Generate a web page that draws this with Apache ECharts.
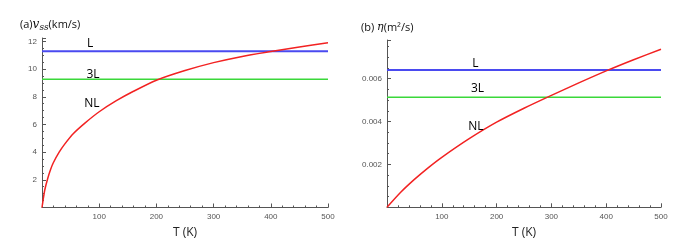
<!DOCTYPE html>
<html>
<head>
<meta charset="utf-8">
<script src="https://cdn.jsdelivr.net/npm/echarts@6/dist/echarts.min.js"></script>
<style>html,body{margin:0;padding:0;background:#fff}#c{width:695px;height:249px}</style>
</head>
<body>
<div id="c"></div>
<script>
// Panel (a): sound speed v_ss (km/s) vs T (K)
const tA = [0, 2, 5, 10, 15, 20, 30, 40, 55, 75, 100, 130, 160, 200, 250, 300, 350, 400, 450, 500];
const vNL = [0, 0.55, 1.3, 2.1, 2.75, 3.25, 4.0, 4.6, 5.35, 6.1, 6.92, 7.72, 8.4, 9.2, 9.9, 10.47, 10.92, 11.27, 11.6, 11.9];
const vL = 11.3;
const v3L = 9.26;
// Panel (b): eta (m^2/s) vs T (K)
const tB = [0, 25, 50, 75, 100, 150, 200, 250, 300, 350, 400, 450, 500];
const etaNL = [0, 0.0007, 0.0013, 0.00184, 0.00233, 0.0032, 0.00397, 0.00462, 0.00522, 0.0058, 0.00636, 0.00688, 0.00737];
const etaL = 0.0064;
const eta3L = 0.00513;
const xRange = [0, 500];
const labelsA = [{name: 'L', t: 85, y: 11.78}, {name: '3L', t: 90, y: 9.57}, {name: 'NL', t: 88, y: 7.45}];
const labelsB = [{name: 'L', t: 162, y: 0.00668}, {name: '3L', t: 166, y: 0.0055}, {name: 'NL', t: 163, y: 0.00376}];

const axisCol = '#555';
function xAx(gi) {
  return {
    type: 'value', gridIndex: gi, min: 0, max: 500, interval: 100,
    name: 'T (K)', nameLocation: 'middle', nameGap: 19,
    nameTextStyle: {fontFamily: 'Open Sans', fontSize: 12, color: '#222'},
    axisLine: {show: true, lineStyle: {color: axisCol, width: 1}},
    axisTick: {show: true, inside: true, length: 4, lineStyle: {color: axisCol}},
    minorTick: {show: true, splitNumber: 5, length: 2, lineStyle: {color: axisCol}},
    axisLabel: {fontFamily: 'Liberation Sans', fontSize: 8, color: '#555', margin: 5,
      formatter: v => (v > 0 && v % 100 === 0) ? String(v) : ''},
    splitLine: {show: false}
  };
}
function mk(gi, ts, ys, color, width, z) {
  return {type: 'line', xAxisIndex: gi, yAxisIndex: gi, data: ts.map((t, i) => [t, ys[i]]),
    showSymbol: false, symbol: 'none', lineStyle: {color: color, width: width}, z: z, silent: true,
    smooth: 0.25};
}
function hl(gi, y, color, width) {
  return {type: 'line', xAxisIndex: gi, yAxisIndex: gi, data: [[xRange[0], y], [xRange[1], y]],
    showSymbol: false, symbol: 'none', lineStyle: {color: color, width: width}, silent: true};
}
function lbl(gi, arr) {
  return {type: 'scatter', xAxisIndex: gi, yAxisIndex: gi, symbolSize: 1, silent: true, z: 10,
    itemStyle: {color: 'rgba(255,255,255,0)', opacity: 1},
    label: {show: true, position: [0, 0], align: 'center', verticalAlign: 'middle', opacity: 1,
      fontFamily: 'Open Sans', fontSize: 12, color: '#000', formatter: p => p.data.name},
    data: arr.map(a => ({name: a.name, value: [a.t, a.y]}))};
}

const chart = echarts.init(document.getElementById('c'), null, {renderer: 'canvas'});
chart.setOption({
  animation: false,
  backgroundColor: '#fff',
  title: [
    {text: '(a){i|v}{s|ss}(km/s)', left: 15, top: 13,
      textStyle: {fontFamily: 'Open Sans', fontSize: 11, fontWeight: 'normal', color: '#111',
        rich: {i: {fontFamily: 'DejaVu Serif', fontStyle: 'italic', fontSize: 12, color: '#111'},
               s: {fontFamily: 'DejaVu Serif', fontStyle: 'italic', fontSize: 9, color: '#111', padding: [5, 0, 0, 0]}}}},
    {text: '(b) {i|η}(m²/s)', left: 356, top: 17,
      textStyle: {fontFamily: 'Open Sans', fontSize: 11, fontWeight: 'normal', color: '#111',
        rich: {i: {fontFamily: 'DejaVu Serif', fontStyle: 'italic', fontSize: 11, color: '#111'}}}}
  ],
  grid: [
    {left: 42, width: 286, top: 38, bottom: 41.5},
    {left: 387, width: 274, top: 40, bottom: 41.7}
  ],
  xAxis: [xAx(0), xAx(1)],
  yAxis: [
    {type: 'value', gridIndex: 0, min: 0, max: 12.25, interval: 2,
      axisLine: {show: true, lineStyle: {color: axisCol}},
      axisTick: {show: true, inside: true, length: 4, lineStyle: {color: axisCol}},
      minorTick: {show: true, splitNumber: 4, length: 2, lineStyle: {color: axisCol}},
      axisLabel: {fontFamily: 'Liberation Sans', fontSize: 8, color: '#555', margin: 5,
        formatter: v => (v > 0 && v % 2 === 0) ? String(v) : ''},
      splitLine: {show: false}},
    {type: 'value', gridIndex: 1, min: 0, max: 0.0078, interval: 0.002,
      axisLine: {show: true, lineStyle: {color: axisCol}},
      axisTick: {show: true, inside: true, length: 4, lineStyle: {color: axisCol}},
      minorTick: {show: true, splitNumber: 4, length: 2, lineStyle: {color: axisCol}},
      axisLabel: {fontFamily: 'Liberation Sans', fontSize: 8, color: '#555', margin: 5,
        formatter: v => {const k = v / 0.002; return (v > 0 && Math.abs(k - Math.round(k)) < 1e-6) ? v.toFixed(3) : '';}},
      splitLine: {show: false}}
  ],
  series: [
    hl(0, vL, '#4a4af0', 2), hl(0, v3L, '#3ad83a', 1.5), mk(0, tA, vNL, '#f22222', 1.5, 5), lbl(0, labelsA),
    hl(1, etaL, '#4a4af0', 2), hl(1, eta3L, '#3ad83a', 1.5), mk(1, tB, etaNL, '#f22222', 1.5, 5), lbl(1, labelsB)
  ]
});
</script>
</body>
</html>
